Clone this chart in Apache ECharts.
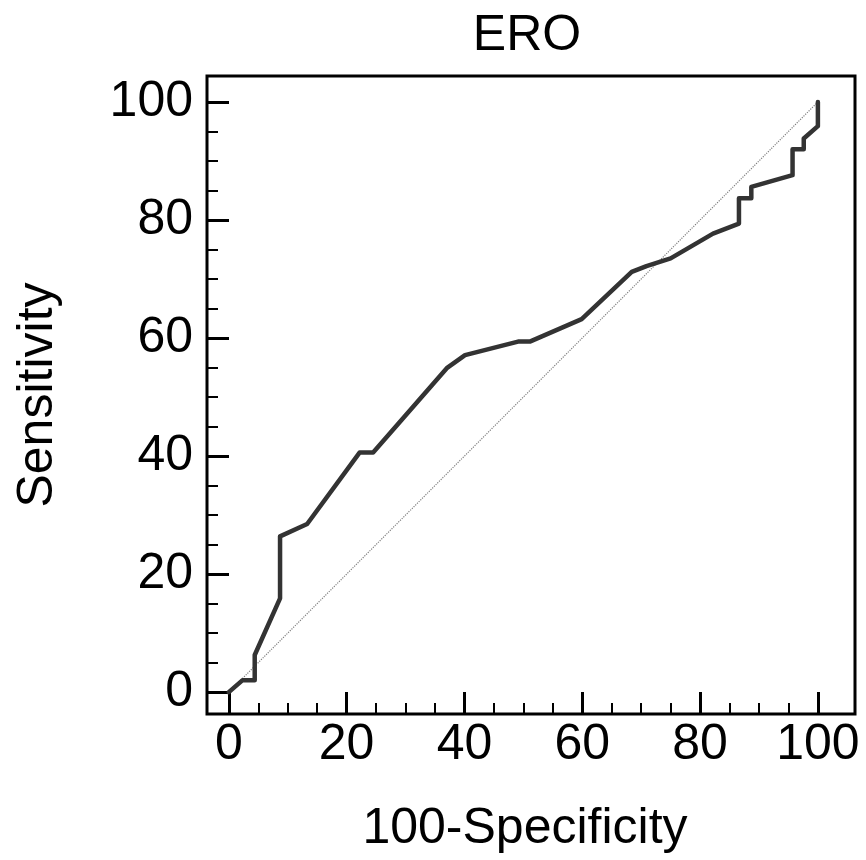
<!DOCTYPE html>
<html>
<head>
<meta charset="utf-8">
<script src="https://cdn.jsdelivr.net/npm/echarts@6/dist/echarts.min.js"></script>
<style>
  html, body { margin: 0; padding: 0; background: #fff; }
  #chart { width: 866px; height: 860px; }
</style>
</head>
<body>
<div id="chart"></div>
<script>
// ROC curve points (100-Specificity, Sensitivity)
const rocX = [0, 2.3, 4.4, 4.4, 8.7, 8.7, 13.3, 22.2, 24.5, 37, 40.1, 49.1, 51.1, 59.9, 68.4, 70.9, 75, 82.2, 86.6, 86.6, 88.7, 88.7, 95.7, 95.7, 97.6, 97.6, 100, 100]
const rocY = [0, 2, 2, 6.3, 15.9, 26.4, 28.5, 40.6, 40.6, 54.9, 57.1, 59.4, 59.4, 63.2, 71.2, 72.2, 73.5, 77.7, 79.4, 83.7, 83.7, 85.6, 87.6, 92, 92, 93.8, 95.9, 100]
// reference diagonal
const diagX = [0, 100]
const diagY = [0, 100]
// ticks
const majorTicks = [0, 20, 40, 60, 80, 100]
const minorTicks = [5, 10, 15, 25, 30, 35, 45, 50, 55, 65, 70, 75, 85, 90, 95]

const font = 'Liberation Sans'
const fs = 50
const chart = echarts.init(document.getElementById('chart'), null, { renderer: 'canvas' })

const mainAxis = (extra) => Object.assign({
  type: 'value',
  min: -3.7,
  splitLine: { show: false },
  axisLine: { show: false, onZero: false },
  axisTick: {
    inside: true,
    length: 22,
    customValues: majorTicks,
    lineStyle: { color: '#000', width: 3 },
  },
  nameLocation: 'middle',
}, extra)

const minorAxis = (extra) => Object.assign({
  type: 'value',
  min: -3.7,
  splitLine: { show: false },
  axisLine: { show: false, onZero: false },
  axisLabel: { show: false },
  axisTick: {
    inside: true,
    length: 11,
    customValues: minorTicks,
    lineStyle: { color: '#000', width: 2 },
  },
}, extra)

const options = {
  animation: false,
  title: {
    text: 'ERO',
    left: 522,
    top: 6,
    textAlign: 'center',
    textStyle: { color: '#000', fontSize: fs, fontWeight: 'normal', fontFamily: font },
  },
  grid: {
    show: true,
    left: 207,
    right: 11,
    top: 76,
    bottom: 146,
    borderColor: '#000',
    borderWidth: 3,
    backgroundColor: '#fff',
  },
  xAxis: [
    mainAxis({
      max: 106.3,
      position: 'bottom',
      name: '100-Specificity',
      nameGap: 90,
      nameTextStyle: { color: '#000', fontSize: fs, fontFamily: font, padding: [0, 12, 0, 0] },
      axisLabel: { customValues: majorTicks, color: '#000', fontSize: fs, fontFamily: font, margin: 6 },
    }),
    minorAxis({ max: 106.3, position: 'bottom' }),
  ],
  yAxis: [
    mainAxis({
      max: 104.4,
      position: 'left',
      name: 'Sensitivity',
      nameGap: 144,
      nameTextStyle: { color: '#000', fontSize: fs, fontFamily: font },
      axisLabel: { customValues: majorTicks, color: '#000', fontSize: fs, fontFamily: font, margin: 14 },
    }),
    minorAxis({ max: 104.4, position: 'left' }),
  ],
  series: [
    {
      name: 'diagonal',
      type: 'line',
      symbol: 'none',
      silent: true,
      data: diagX.map((x, i) => [x, diagY[i]]),
      lineStyle: { color: '#808080', width: 1.2, type: 'dotted' },
    },
    {
      name: 'ERO',
      type: 'line',
      symbol: 'none',
      data: rocX.map((x, i) => [x, rocY[i]]),
      lineStyle: { color: '#333', width: 4.5, join: 'round', cap: 'round' },
    },
  ],
}
chart.setOption(options)
</script>
</body>
</html>
